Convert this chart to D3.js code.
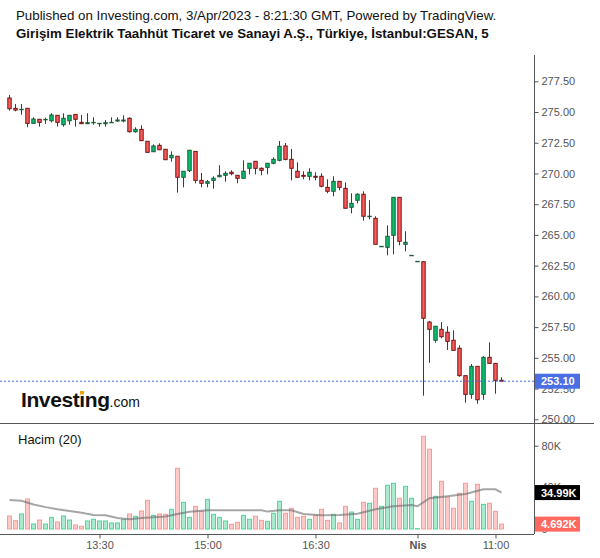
<!DOCTYPE html>
<html>
<head>
<meta charset="utf-8">
<script src="https://cdn.jsdelivr.net/npm/d3@7"></script>
<style>
  body { margin: 0; background: #fff; }
  svg { display: block; font-family: "Liberation Sans", Arial, sans-serif; }
</style>
</head>
<body>
<svg id="chart" width="600" height="558"></svg>
<script>
// 5-minute bars, 31 Mar 12:15 -> 3 Apr 11:05
const opens = [
  276.14, 275.30, 275.22, 275.30, 274.08, 274.41, 274.40, 274.29, 274.73, 273.97,
  274.29, 274.81, 274.16, 274.05, 274.16, 274.08, 274.05, 274.16, 274.27, 274.27,
  274.49, 273.40, 273.59, 272.62, 271.77, 272.29, 271.97, 271.28, 271.40, 269.69,
  270.23, 271.80, 269.44, 269.20, 269.44, 269.74, 269.85, 270.10, 269.85, 269.61,
  270.42, 270.99, 270.42, 270.50, 270.83, 271.07, 272.24, 271.15, 270.18, 269.85,
  269.77, 269.77, 269.77, 268.87, 268.55, 269.36, 268.79, 267.25, 267.82, 268.31,
  266.52, 266.35, 264.07, 263.99, 264.97, 268.06, 264.24, 263.34, 262.85, 262.82,
  257.91, 256.43, 257.32, 257.08, 256.43, 255.78, 253.55, 252.03, 254.31, 252.03,
  255.04, 254.55, 253.17
];
const highs = [
  276.39, 275.65, 275.65, 275.30, 274.57, 274.41, 274.54, 274.90, 274.73, 274.90,
  274.73, 274.81, 274.76, 274.90, 274.57, 274.08, 274.35, 274.57, 274.57, 274.73,
  274.57, 273.76, 273.92, 272.62, 272.37, 272.45, 271.97, 271.80, 271.40, 270.18,
  271.89, 271.80, 270.04, 269.47, 269.77, 270.67, 270.18, 270.26, 269.85, 271.07,
  270.83, 270.99, 270.50, 270.83, 271.32, 272.64, 272.48, 271.99, 270.91, 270.18,
  270.42, 270.10, 270.01, 269.53, 269.77, 269.36, 269.28, 268.39, 268.39, 268.55,
  267.82, 266.52, 264.07, 265.78, 268.06, 268.06, 265.30, 263.34, 262.85, 262.82,
  258.00, 257.57, 257.91, 257.57, 257.24, 256.02, 253.55, 254.50, 254.31, 255.13,
  256.26, 254.55, 253.42
];
const lows = [
  275.11, 275.06, 274.78, 273.76, 274.08, 273.81, 274.03, 274.16, 273.81, 273.81,
  273.97, 273.81, 274.05, 274.05, 273.97, 273.81, 273.81, 274.16, 274.19, 274.16,
  273.32, 273.32, 272.67, 271.72, 271.77, 271.93, 271.12, 270.96, 268.44, 268.87,
  270.12, 269.20, 268.87, 268.87, 268.76, 269.69, 269.33, 269.85, 269.20, 269.61,
  269.93, 269.93, 269.85, 269.93, 270.75, 270.99, 271.07, 269.44, 269.69, 269.53,
  269.44, 269.44, 268.87, 268.39, 268.14, 268.63, 267.17, 266.76, 267.57, 266.16,
  266.27, 264.24, 264.07, 263.34, 263.42, 264.16, 263.67, 263.34, 262.85, 251.92,
  254.60, 256.23, 256.59, 255.64, 255.61, 253.46, 251.35, 251.67, 251.27, 251.59,
  254.55, 252.08, 253.09
];
const closes = [
  275.27, 275.16, 275.22, 274.08, 274.43, 274.16, 274.40, 274.76, 274.16, 274.49,
  274.73, 274.41, 274.05, 274.13, 274.16, 274.08, 274.13, 274.16, 274.35, 274.35,
  273.40, 273.59, 272.67, 271.72, 272.24, 271.93, 271.12, 271.48, 269.69, 270.18,
  271.89, 269.44, 269.20, 269.33, 269.61, 269.85, 270.01, 269.98, 269.61, 270.18,
  270.83, 270.42, 270.26, 270.83, 271.15, 272.21, 271.15, 270.42, 269.69, 269.77,
  270.10, 269.69, 268.96, 268.55, 269.36, 268.87, 267.17, 267.57, 268.31, 266.52,
  266.52, 264.24, 264.07, 264.89, 268.06, 264.48, 264.40, 263.34, 262.85, 258.22,
  257.32, 257.57, 256.72, 256.34, 255.61, 253.55, 252.03, 254.31, 251.59, 255.04,
  254.55, 253.17, 253.10
];
// volume in thousands
const volumes = [
  12.5, 8.0, 14.4, 28.8, 4.8, 8.6, 4.8, 11.2, 6.7, 12.5,
  8.6, 3.8, 2.6, 7.7, 9.3, 7.7, 7.7, 5.8, 5.8, 9.0,
  14.4, 12.2, 17.3, 27.5, 13.1, 14.4, 14.1, 18.9, 58.3, 25.6,
  11.2, 21.8, 17.0, 28.5, 14.1, 11.2, 7.7, 4.5, 6.4, 13.1,
  9.3, 12.2, 8.3, 7.4, 15.1, 26.6, 15.1, 19.9, 11.2, 12.2,
  9.3, 13.1, 18.9, 8.3, 14.1, 5.8, 21.8, 16.3, 9.3, 25.6,
  24.7, 39.1, 21.8, 42.0, 43.9, 29.5, 41.0, 29.5, 0.3, 89.0,
  76.6, 31.4, 45.8, 30.5, 19.9, 34.3, 43.9, 26.6, 42.9, 23.7,
  24.7, 17.0, 4.692
];
// volume MA(20) as read at some bars
const maIndex = [0, 2, 4, 6, 8, 10, 12, 14, 16, 18, 20, 22, 24, 26, 28, 30, 33, 42, 43, 45, 47, 49, 52, 55, 58, 61, 64, 67, 68, 70, 73, 76, 79, 81, 82];
const maValues = [27.9, 27.2, 23.5, 21.0, 19.0, 17.3, 15.5, 13.5, 13.1, 10.5, 9.3, 10.6, 11.2, 12.0, 14.5, 16.5, 18.0, 18.0, 16.7, 18.0, 18.0, 14.4, 13.1, 13.5, 14.7, 18.9, 21.8, 23.1, 21.8, 29.5, 31.4, 33.6, 38.1, 38.1, 34.99];

const priceTicks = [250, 252.5, 255, 257.5, 260, 262.5, 265, 267.5, 270, 272.5, 275, 277.5];
const volumeTicks = [0, 40, 80];
const timeTickIndex = [15, 33, 51, 68, 81];
const timeTickLabels = ['13:30', '15:00', '16:30', 'Nis', '11:00'];
const lastPrice = 253.10;
const lastVolume = 4.692;
const lastMa = 34.99;

const svg = d3.select('#chart');

// layout
const axisX = 534;
const plotTop = 55;
const paneSplit = 423;
const timeAxisY = 534;

// scales
const x = d3.scaleLinear().domain([0, opens.length - 1]).range([9.5, 501.5]);
const yPrice = d3.scaleLinear().domain([250, 277.5]).range([419.3, 81.3]);
const yVol = d3.scaleLinear().domain([0, 80]).range([529, 445.7]);

const upFill = '#00c46e', downFill = '#ff5a5a';
const upEdge = '#1e5a3a', downEdge = '#701717';
const wickColor = '#1e4d36';

const bars = opens.map((o, i) => ({
    i: i, o: o, h: highs[i], l: lows[i], c: closes[i], v: volumes[i], up: closes[i] >= o
}));

// header
svg.append('text')
    .attr('x', 16).attr('y', 19.5)
    .style('font-size', '13.3px').attr('fill', '#111')
    .text('Published on Investing.com, 3/Apr/2023 - 8:21:30 GMT, Powered by TradingView.');
svg.append('text')
    .attr('x', 16).attr('y', 38)
    .style('font-size', '13.3px').style('font-weight', 'bold').attr('fill', '#111')
    .text('Girişim Elektrik Taahhüt Ticaret ve Sanayi A.Ş., Türkiye, İstanbul:GESAN, 5');

// volume bars
svg.append('g').selectAll('rect')
    .data(bars)
    .enter()
    .append('rect')
    .attr('x', d => x(d.i) - 2)
    .attr('y', d => yVol(d.v))
    .attr('width', 4)
    .attr('height', d => yVol(0) - yVol(d.v))
    .attr('fill', d => d.up ? '#a8ebcf' : '#ffc9c7')
    .attr('stroke', d => d.up ? '#55d39a' : '#f79c96')
    .attr('stroke-width', 1);

// volume MA line
svg.append('path')
    .datum(maIndex.map((k, j) => [k, maValues[j]]))
    .attr('fill', 'none')
    .attr('stroke', '#6b6b6b')
    .attr('stroke-opacity', 0.6)
    .attr('stroke-width', 2)
    .attr('d', d3.line().x(d => x(d[0])).y(d => yVol(d[1])));

svg.append('text')
    .attr('x', 18).attr('y', 444)
    .style('font-size', '13px').attr('fill', '#111')
    .text('Hacim (20)');

// candles
const candles = svg.append('g').selectAll('g')
    .data(bars)
    .enter()
    .append('g');

candles.append('line')
    .attr('x1', d => x(d.i)).attr('x2', d => x(d.i))
    .attr('y1', d => yPrice(d.h)).attr('y2', d => yPrice(d.l))
    .attr('stroke', wickColor)
    .attr('stroke-width', 1);

candles.append('rect')
    .attr('x', d => x(d.i) - 1.7)
    .attr('y', d => yPrice(Math.max(d.o, d.c)))
    .attr('width', 3.4)
    .attr('height', d => Math.max(0.4, Math.abs(yPrice(d.o) - yPrice(d.c))))
    .attr('fill', d => d.up ? upFill : downFill)
    .attr('stroke', d => d.up ? upEdge : downEdge)
    .attr('stroke-width', 1);

// current price line
svg.append('line')
    .attr('x1', 0).attr('x2', axisX)
    .attr('y1', yPrice(lastPrice)).attr('y2', yPrice(lastPrice))
    .attr('stroke', '#3c6ee8')
    .attr('stroke-dasharray', '2,2')
    .attr('stroke-width', 1);

// Investing logo
const logo = svg.append('text')
    .attr('x', 21).attr('y', 406.5)
    .attr('fill', '#111');
logo.append('tspan')
    .style('font-size', '21px').style('font-weight', 'bold').style('letter-spacing', '-0.4px')
    .text('Investing');
logo.append('tspan')
    .style('font-size', '14px')
    .text('.com');
const iBox = logo.node().getExtentOfChar(6);
svg.append('rect')
    .attr('x', iBox.x + iBox.width / 2 - 2).attr('y', 391)
    .attr('width', 4).attr('height', 3.5)
    .attr('fill', '#f5a000');

// frame lines
svg.append('line')
    .attr('x1', axisX + 0.5).attr('x2', axisX + 0.5)
    .attr('y1', plotTop).attr('y2', timeAxisY)
    .attr('stroke', '#555');
svg.append('line')
    .attr('x1', 0).attr('x2', 594)
    .attr('y1', paneSplit + 0.5).attr('y2', paneSplit + 0.5)
    .attr('stroke', '#555');
svg.append('line')
    .attr('x1', 0).attr('x2', axisX)
    .attr('y1', timeAxisY + 0.5).attr('y2', timeAxisY + 0.5)
    .attr('stroke', '#555');

// price axis
const priceAxis = svg.append('g')
    .attr('transform', `translate(${axisX + 0.5},0)`)
    .call(d3.axisRight(yPrice).tickValues(priceTicks).tickSize(4).tickPadding(3).tickFormat(d3.format('.2f')));

// volume axis
const volAxis = svg.append('g')
    .attr('transform', `translate(${axisX + 0.5},0)`)
    .call(d3.axisRight(yVol).tickValues(volumeTicks).tickSize(4).tickPadding(3).tickFormat(d => d === 0 ? '0' : d + 'K'));

// time axis
const timeAxis = svg.append('g')
    .attr('transform', `translate(0,${timeAxisY + 0.5})`)
    .call(d3.axisBottom(x).tickValues(timeTickIndex).tickSize(4).tickPadding(3).tickFormat((d, i) => timeTickLabels[i]));

[priceAxis, volAxis, timeAxis].forEach(a => {
    a.select('.domain').remove();
    a.selectAll('line').attr('stroke', '#555');
    a.selectAll('text')
        .attr('fill', '#555')
        .style('font-size', '11px')
        .style('font-family', '"Liberation Sans", Arial, sans-serif');
});
timeAxis.selectAll('text').filter(d => d === 68).style('font-weight', 'bold');

// value labels on the right axis
function tag(y, label, color) {
    svg.append('rect')
        .attr('x', axisX + 1).attr('y', y - 7.5)
        .attr('width', 45).attr('height', 15)
        .attr('fill', color);
    svg.append('text')
        .attr('x', axisX + 7).attr('y', y + 4)
        .style('font-size', '11px').style('font-weight', 'bold')
        .attr('fill', '#fff')
        .text(label);
}
tag(yPrice(lastPrice), lastPrice.toFixed(2), '#4a6ee3');
tag(yVol(lastMa), lastMa + 'K', '#000');
tag(yVol(lastVolume), lastVolume + 'K', '#ff675f');
</script>
</body>
</html>
